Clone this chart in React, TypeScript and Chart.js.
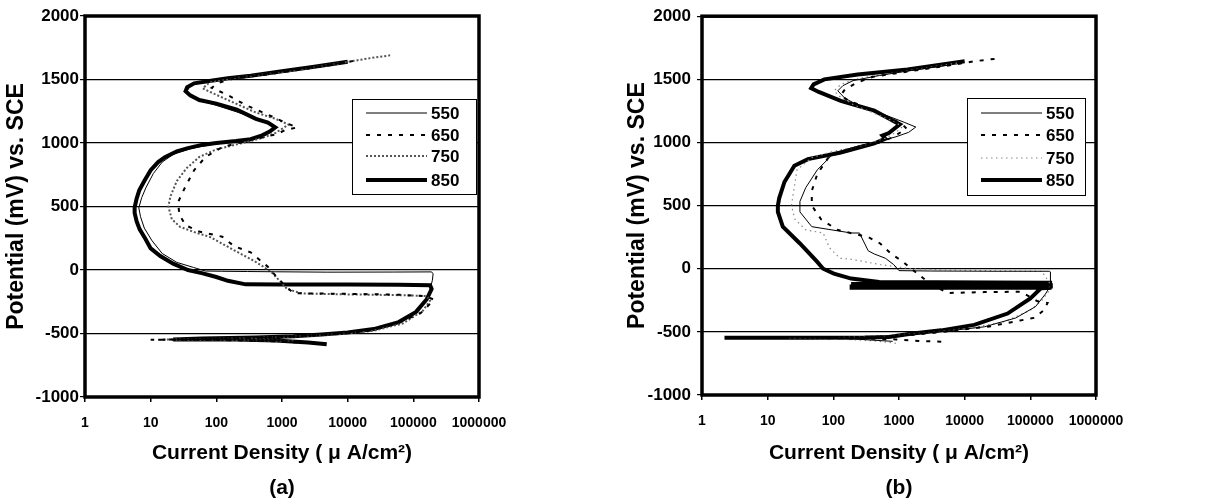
import React, { useEffect, useRef } from 'react';
import { Chart, registerables } from 'chart.js';

Chart.register(...registerables);

const SERIES_LABELS = ['550', '650', '750', '850'];
const X_TICKS = [1, 10, 100, 1000, 10000, 100000, 1000000];
const Y_TICKS = [-1000, -500, 0, 500, 1000, 1500, 2000];
const X_TITLE = 'Current Density ( \u03bc A/cm\u00b2)';
const Y_TITLE = 'Potential (mV) vs. SCE';

// ---------- Panel (a) ----------
const A550_I = [3500, 1200, 300, 60, 25, 80, 500, 2000, 6000, 15000, 40000, 90000, 140000, 175000, 195000, 200000, 190000, 50000, 5000, 800, 300, 120, 68, 45, 25, 15, 10.5, 8, 7, 6.6, 7.3, 8.5, 11, 15, 22, 40, 80, 150, 333, 550, 760, 700, 500, 250, 110, 60, 40, 36, 40, 60, 150, 400, 1200, 4000, 9000];
const A550_E = [-575, -558, -550, -548, -546, -540, -532, -520, -505, -485, -440, -370, -280, -180, -80, -30, -15, -16, -17, -14, -12, -10, -8, 20, 60, 130, 230, 330, 420, 490, 570, 650, 760, 850, 910, 955, 985, 1005, 1030, 1070, 1110, 1135, 1170, 1230, 1290, 1330, 1380, 1410, 1450, 1480, 1510, 1535, 1570, 1605, 1635];

const A650_I = [2500, 800, 200, 50, 10, 40, 300, 1500, 6000, 20000, 57000, 129000, 207000, 150000, 60000, 20000, 3000, 1500, 1100, 830, 610, 333, 185, 123, 55, 34, 27.5, 26, 34, 46, 68, 123, 333, 830, 1100, 1700, 1100, 610, 277, 150, 85, 110, 185, 500, 1500, 5000, 12000];
const A650_E = [-575, -562, -553, -550, -550, -545, -536, -522, -505, -480, -420, -340, -234, -205, -195, -190, -185, -183, -120, -55, 25, 139, 189, 262, 303, 352, 434, 532, 659, 786, 889, 968, 1023, 1069, 1100, 1123, 1162, 1223, 1300, 1377, 1435, 1475, 1508, 1535, 1570, 1610, 1645];

const A750_I = [1500, 300, 60, 15, 60, 400, 1800, 7000, 25000, 70000, 140000, 180000, 160000, 60000, 10000, 2000, 1200, 900, 700, 560, 380, 230, 130, 80, 45, 28, 21, 18.6, 20, 25, 35, 55, 100, 250, 500, 800, 1260, 800, 400, 180, 90, 62, 80, 200, 600, 2000, 8000, 20000, 47000];
const A750_E = [-560, -552, -549, -548, -544, -535, -522, -505, -478, -420, -320, -240, -205, -198, -192, -185, -150, -80, -20, 15, 70, 130, 200, 260, 300, 340, 400, 500, 580, 700, 800, 890, 950, 1000, 1040, 1080, 1145, 1190, 1240, 1320, 1390, 1430, 1480, 1515, 1545, 1580, 1630, 1665, 1692];

const A850_I = [4800, 2500, 800, 200, 22, 60, 400, 1500, 4000, 10000, 25000, 60000, 110000, 160000, 190000, 180000, 60000, 10000, 1000, 280, 150, 100, 60, 37, 22, 14, 10, 8.3, 6.8, 6.1, 5.7, 5.7, 6.1, 6.7, 8, 10, 13, 16.5, 25, 37, 60, 100, 200, 333, 500, 650, 790, 610, 400, 205, 100, 55, 40, 34, 36, 46, 83, 150, 333, 1000, 3100, 10000];
const A850_E = [-585, -570, -555, -548, -547, -540, -532, -522, -508, -492, -465, -410, -330, -230, -150, -120, -117, -115, -115, -113, -85, -55, -25, 0, 50, 110, 170, 246, 320, 385, 450, 492, 560, 627, 700, 786, 850, 889, 935, 960, 985, 1000, 1015, 1030, 1060, 1090, 1123, 1160, 1190, 1262, 1310, 1338, 1375, 1408, 1440, 1470, 1490, 1510, 1530, 1565, 1600, 1640];

// ---------- Panel (b) ----------
const B550_I = [800, 200, 40, 10, 60, 400, 1500, 5000, 20000, 60000, 120000, 170000, 200000, 205000, 200000, 195000, 30000, 3000, 1000, 830, 620, 420, 340, 250, 187, 47, 31, 31, 38, 57, 103, 250, 500, 900, 1400, 1800, 1200, 600, 250, 150, 117, 140, 200, 500, 1500, 6000];
const B550_E = [-575, -556, -550, -548, -545, -538, -520, -495, -460, -390, -300, -200, -140, -60, -25, -20, -20, -18, -15, 33, 83, 117, 142, 283, 283, 333, 450, 533, 642, 783, 917, 975, 1010, 1045, 1080, 1122, 1160, 1220, 1290, 1350, 1409, 1450, 1490, 1530, 1570, 1615];

const B650_I = [4400, 2000, 900, 300, 80, 300, 1500, 6000, 25000, 70000, 115000, 160000, 183000, 129000, 72000, 20000, 5500, 3000, 1500, 1130, 760, 517, 340, 115, 65, 47, 47, 57, 87, 200, 500, 800, 1300, 1100, 600, 300, 160, 130, 150, 220, 400, 1500, 5000, 15000, 36000];
const B650_E = [-578, -572, -560, -553, -550, -545, -525, -495, -455, -410, -389, -330, -271, -258, -182, -185, -192, -120, 5, 58, 117, 200, 250, 308, 392, 500, 617, 750, 892, 950, 1000, 1040, 1110, 1150, 1210, 1280, 1340, 1375, 1420, 1470, 1520, 1565, 1605, 1645, 1668];

const B750_I = [900, 400, 100, 20, 100, 700, 3000, 12000, 40000, 100000, 150000, 190000, 200000, 150000, 20000, 5000, 1500, 517, 187, 126, 87, 70, 38, 26, 23, 25, 28, 47, 100, 300, 600, 900, 1100, 900, 500, 200, 120, 103, 130, 250, 700, 2500, 8000];
const B750_E = [-590, -570, -555, -550, -546, -530, -505, -470, -420, -330, -250, -180, -120, -20, -15, -10, 0, 33, 75, 83, 167, 283, 308, 392, 500, 620, 783, 880, 930, 980, 1030, 1080, 1120, 1160, 1215, 1300, 1370, 1410, 1460, 1510, 1545, 1590, 1630];

const B850_I = [2.2, 50, 300, 700, 1500, 4400, 14000, 45000, 100000, 145000, 210000, 190, 190, 205000, 205000, 200, 200, 200000, 200000, 500, 187, 102, 70, 56, 31, 17, 14.3, 14.3, 15, 18, 25.5, 41, 130, 420, 620, 560, 700, 1030, 700, 420, 130, 60, 46, 50, 73, 235, 1350, 10000];
const B850_E = [-547, -546, -545, -540, -515, -488, -445, -355, -235, -155, -150, -150, -140, -140, -130, -130, -120, -120, -110, -105, -78, -39, 0, 58, 200, 333, 450, 500, 560, 687, 816, 868, 921, 992, 1030, 1055, 1075, 1143, 1190, 1252, 1330, 1400, 1430, 1460, 1500, 1539, 1578, 1643];

type Style = { color: string; width: number; dash: number[] };

const STYLES_A: Style[] = [
  { color: '#000', width: 1, dash: [] },
  { color: '#000', width: 2, dash: [4, 7] },
  { color: '#555', width: 2, dash: [2, 2] },
  { color: '#000', width: 4, dash: [] },
];
const STYLES_B: Style[] = [
  { color: '#000', width: 1, dash: [] },
  { color: '#000', width: 2, dash: [4, 7] },
  { color: '#888', width: 1.2, dash: [1.5, 3.5] },
  { color: '#000', width: 4, dash: [] },
];

const pts = (I: number[], E: number[]) => I.map((x, i) => ({ x, y: E[i] }));

const FONT = '"Liberation Sans", Arial, sans-serif';

type Panel = {
  series: { I: number[]; E: number[] }[];
  styles: Style[];
  tag: string;
  area: { left: number; right: number; top: number; bottom: number };
  width: number;
  height: number;
  yTitlePad: number;
  yTickPad: number;
  legend: { dx: number; top: number; w: number; h: number; rows: number[] };
};

const PANEL_A: Panel = {
  series: [
    { I: A550_I, E: A550_E },
    { I: A650_I, E: A650_E },
    { I: A750_I, E: A750_E },
    { I: A850_I, E: A850_E },
  ],
  styles: STYLES_A,
  tag: '(a)',
  area: { left: 85, right: 479, top: 16, bottom: 397 },
  width: 608,
  height: 502,
  yTitlePad: 3,
  yTickPad: 1,
  legend: { dx: 127, top: 99, w: 124, h: 95, rows: [14, 36, 57, 81] },
};

const PANEL_B: Panel = {
  series: [
    { I: B550_I, E: B550_E },
    { I: B650_I, E: B650_E },
    { I: B750_I, E: B750_E },
    { I: B850_I, E: B850_E },
  ],
  styles: STYLES_B,
  tag: '(b)',
  area: { left: 94, right: 488, top: 15, bottom: 395 },
  width: 609,
  height: 502,
  yTitlePad: 16,
  yTickPad: 6,
  legend: { dx: 129, top: 98, w: 118, h: 97, rows: [15, 37, 60, 82] },
};

function makeConfig(p: Panel): any {
  const framePlugin = {
    id: 'frameLegend',
    afterDatasetsDraw(chart: any) {
      const { ctx, chartArea } = chart;
      ctx.save();
      ctx.strokeStyle = '#000';
      ctx.lineWidth = 3.5;
      ctx.setLineDash([]);
      ctx.strokeRect(chartArea.left, chartArea.top, chartArea.right - chartArea.left, chartArea.bottom - chartArea.top);

      // legend box
      const L = p.legend;
      const bx = chartArea.right - L.dx;
      const by = L.top;
      ctx.fillStyle = '#fff';
      ctx.fillRect(bx, by, L.w, L.h);
      ctx.lineWidth = 1;
      ctx.strokeRect(bx + 0.5, by + 0.5, L.w, L.h);
      SERIES_LABELS.forEach((lab, i) => {
        const st = p.styles[i];
        const y = by + L.rows[i];
        ctx.beginPath();
        ctx.strokeStyle = st.color;
        ctx.lineWidth = st.width;
        ctx.setLineDash(st.dash);
        ctx.moveTo(bx + 14, y);
        ctx.lineTo(bx + 75, y);
        ctx.stroke();
        ctx.setLineDash([]);
        ctx.fillStyle = '#000';
        ctx.font = 'bold 17px ' + FONT;
        ctx.textAlign = 'left';
        ctx.textBaseline = 'middle';
        ctx.fillText(lab, bx + 79, y + 1);
      });
      ctx.restore();
    },
  };

  const a = p.area;
  return {
    type: 'scatter',
    data: {
      datasets: p.series.map((s, i) => ({
        label: SERIES_LABELS[i],
        data: pts(s.I, s.E),
        showLine: true,
        borderColor: p.styles[i].color,
        borderWidth: p.styles[i].width,
        borderDash: p.styles[i].dash,
        pointRadius: 0,
        fill: false,
        tension: 0,
      })),
    },
    options: {
      responsive: false,
      maintainAspectRatio: false,
      animation: false,
      devicePixelRatio: 1,
      events: [],
      layout: { padding: { left: 0, right: p.width - a.right, top: a.top, bottom: 0 } },
      plugins: { legend: { display: false }, tooltip: { enabled: false } },
      scales: {
        x: {
          type: 'logarithmic',
          min: 1,
          max: 1000000,
          afterBuildTicks: (s: any) => {
            s.ticks = X_TICKS.map((v) => ({ value: v }));
          },
          afterFit: (s: any) => {
            s.height = p.height - a.bottom;
          },
          ticks: {
            autoSkip: false,
            maxRotation: 0,
            padding: 13,
            color: '#000',
            font: { family: FONT, size: 14, weight: 'bold' },
            callback: (v: any) => String(v),
          },
          grid: { drawOnChartArea: false, drawTicks: true, tickLength: 5, color: '#000', lineWidth: 1.5 },
          border: { display: false },
          title: {
            display: true,
            text: [X_TITLE, p.tag],
            color: '#000',
            font: { family: FONT, size: 21, weight: 'bold', lineHeight: '35px' },
            padding: { top: 0, bottom: -4 },
          },
        },
        y: {
          type: 'linear',
          min: -1000,
          max: 2000,
          afterBuildTicks: (s: any) => {
            s.ticks = Y_TICKS.map((v) => ({ value: v }));
          },
          afterFit: (s: any) => {
            s.width = a.left;
          },
          ticks: {
            padding: p.yTickPad,
            color: '#000',
            font: { family: FONT, size: 17, weight: 'bold' },
            callback: (v: any) => String(v),
          },
          grid: { drawOnChartArea: true, drawTicks: true, tickLength: 5, color: '#000', lineWidth: 1.2 },
          border: { display: false },
          title: {
            display: true,
            text: Y_TITLE,
            color: '#000',
            font: { family: FONT, size: 23, weight: 'bold' },
            padding: { top: p.yTitlePad, bottom: 0 },
          },
        },
      },
    },
    plugins: [framePlugin],
  };
}

export default function App() {
  const refA = useRef<HTMLCanvasElement | null>(null);
  const refB = useRef<HTMLCanvasElement | null>(null);

  useEffect(() => {
    Chart.defaults.font.family = FONT;
    const ca = new Chart(refA.current as HTMLCanvasElement, makeConfig(PANEL_A));
    const cb = new Chart(refB.current as HTMLCanvasElement, makeConfig(PANEL_B));
    return () => {
      ca.destroy();
      cb.destroy();
    };
  }, []);

  return (
    <div style={{ position: 'fixed', left: 0, top: 0, width: 1217, height: 502, background: '#fff' }}>
      <canvas
        ref={refA}
        width={608}
        height={502}
        style={{ position: 'absolute', left: 0, top: 0, width: 608, height: 502 }}
      />
      <canvas
        ref={refB}
        width={609}
        height={502}
        style={{ position: 'absolute', left: 608, top: 0, width: 609, height: 502 }}
      />
    </div>
  );
}
